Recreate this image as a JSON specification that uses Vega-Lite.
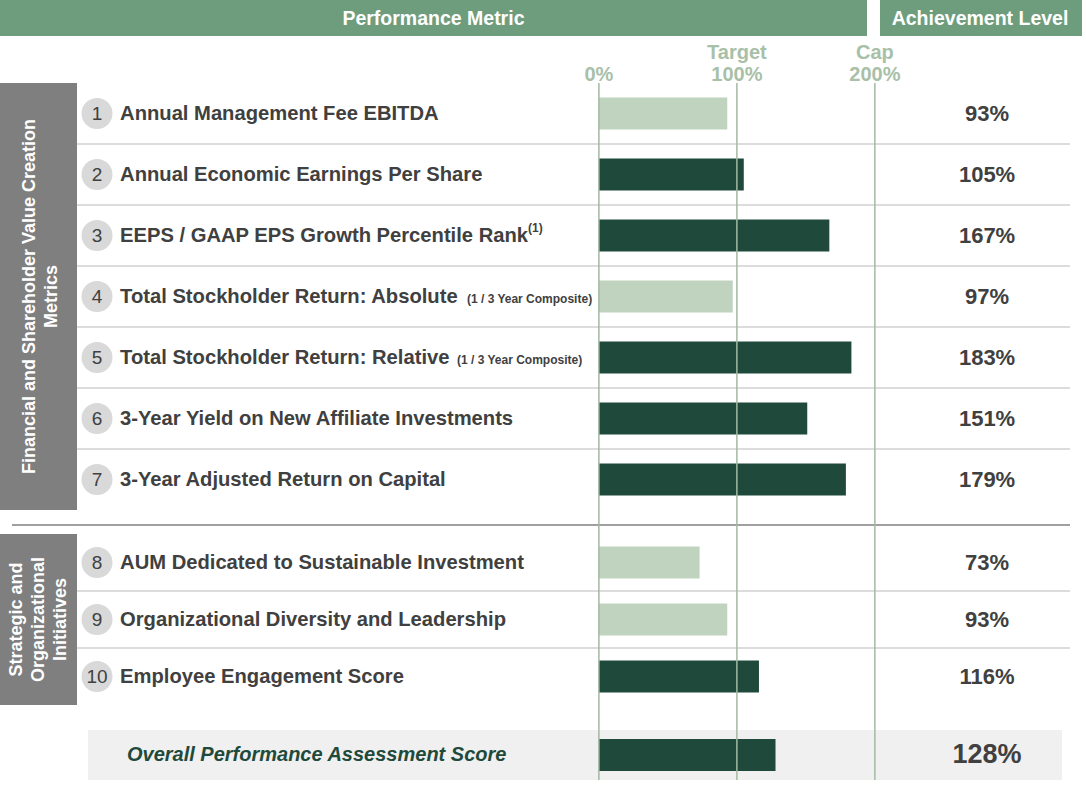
{
  "$schema": "https://vega.github.io/schema/vega-lite/v6.json",
  "padding": 0,
  "spacing": 0,
  "bounds": "flush",
  "background": "#ffffff",
  "config": {"view": {"stroke": null}, "font": "Liberation Sans", "text": {"font": "Liberation Sans"}},
  "resolve": {"scale": {"x": "independent", "y": "independent"}},
  "datasets": {
    "metrics": [
      {"rank": 1, "group": "Financial", "metric": "Annual Management Fee EBITDA", "note": "", "achievement": 0.93},
      {"rank": 2, "group": "Financial", "metric": "Annual Economic Earnings Per Share", "note": "", "achievement": 1.05},
      {"rank": 3, "group": "Financial", "metric": "EEPS / GAAP EPS Growth Percentile Rank", "note": "(1)", "achievement": 1.67},
      {"rank": 4, "group": "Financial", "metric": "Total Stockholder Return: Absolute", "note": "(1 / 3 Year Composite)", "achievement": 0.97},
      {"rank": 5, "group": "Financial", "metric": "Total Stockholder Return: Relative", "note": "(1 / 3 Year Composite)", "achievement": 1.83},
      {"rank": 6, "group": "Financial", "metric": "3-Year Yield on New Affiliate Investments", "note": "", "achievement": 1.51},
      {"rank": 7, "group": "Financial", "metric": "3-Year Adjusted Return on Capital", "note": "", "achievement": 1.79},
      {"rank": 8, "group": "Strategic", "metric": "AUM Dedicated to Sustainable Investment", "note": "", "achievement": 0.73},
      {"rank": 9, "group": "Strategic", "metric": "Organizational Diversity and Leadership", "note": "", "achievement": 0.93},
      {"rank": 10, "group": "Strategic", "metric": "Employee Engagement Score", "note": "", "achievement": 1.16}
    ],
    "groups": [
      {"group": "Financial", "title": "Financial and Shareholder Value Creation\nMetrics"},
      {"group": "Strategic", "title": "Strategic and\nOrganizational\nInitiatives"}
    ],
    "refs": [
      {"ref": 0, "name": "", "pct": "0%"},
      {"ref": 1, "name": "Target", "pct": "100%"},
      {"ref": 2, "name": "Cap", "pct": "200%"}
    ],
    "headers": [{"header": "Performance Metric"}, {"header": "Achievement Level"}],
    "overall": [{"metric": "Overall Performance Assessment Score", "achievement": 1.28}]
  },
  "vconcat": [
    {
      "width": 1086, "height": 83,
      "layer": [
        {"data": {"name": "headers"}, "transform": [{"filter": "datum.header == 'Performance Metric'"}],
         "mark": {"type": "rect", "color": "#6e9d7e"},
         "encoding": {
           "x": {"datum": -4.34, "type": "quantitative", "scale": {"domain": [-4.34, 3.53], "nice": false, "zero": false}, "axis": null},
           "x2": {"datum": 1.943},
           "y": {"datum": 0, "type": "quantitative", "scale": {"domain": [0, 83], "reverse": true, "nice": false, "zero": false}, "axis": null},
           "y2": {"datum": 36}}},
        {"data": {"name": "headers"}, "transform": [{"filter": "datum.header == 'Performance Metric'"}],
         "mark": {"type": "text", "color": "#ffffff", "fontWeight": "bold", "fontSize": 19.5, "align": "center", "baseline": "middle"},
         "encoding": {
           "x": {"datum": -1.199, "type": "quantitative", "scale": {"domain": [-4.34, 3.53], "nice": false, "zero": false}, "axis": null},
           "y": {"datum": 19, "type": "quantitative", "scale": {"domain": [0, 83], "reverse": true, "nice": false, "zero": false}, "axis": null},
           "text": {"field": "header"}}},
        {"data": {"name": "headers"}, "transform": [{"filter": "datum.header == 'Achievement Level'"}],
         "mark": {"type": "rect", "color": "#6e9d7e"},
         "encoding": {
           "x": {"datum": 2.037, "type": "quantitative", "scale": {"domain": [-4.34, 3.53], "nice": false, "zero": false}, "axis": null},
           "x2": {"datum": 3.501},
           "y": {"datum": 0, "type": "quantitative", "scale": {"domain": [0, 83], "reverse": true, "nice": false, "zero": false}, "axis": null},
           "y2": {"datum": 36}}},
        {"data": {"name": "headers"}, "transform": [{"filter": "datum.header == 'Achievement Level'"}],
         "mark": {"type": "text", "color": "#ffffff", "fontWeight": "bold", "fontSize": 19.5, "align": "center", "baseline": "middle"},
         "encoding": {
           "x": {"datum": 2.762, "type": "quantitative", "scale": {"domain": [-4.34, 3.53], "nice": false, "zero": false}, "axis": null},
           "y": {"datum": 19, "type": "quantitative", "scale": {"domain": [0, 83], "reverse": true, "nice": false, "zero": false}, "axis": null},
           "text": {"field": "header"}}},
        {"data": {"name": "refs"},
         "mark": {"type": "text", "color": "#a8c0a8", "fontWeight": "bold", "fontSize": 20, "align": "center", "baseline": "middle"},
         "encoding": {
           "x": {"field": "ref", "type": "quantitative", "scale": {"domain": [-4.34, 3.53], "nice": false, "zero": false}, "axis": null},
           "y": {"datum": 53, "type": "quantitative", "scale": {"domain": [0, 83], "reverse": true, "nice": false, "zero": false}, "axis": null},
           "text": {"field": "name"}}},
        {"data": {"name": "refs"},
         "mark": {"type": "text", "color": "#a8c0a8", "fontWeight": "bold", "fontSize": 20, "align": "center", "baseline": "middle"},
         "encoding": {
           "x": {"field": "ref", "type": "quantitative", "scale": {"domain": [-4.34, 3.53], "nice": false, "zero": false}, "axis": null},
           "y": {"datum": 75, "type": "quantitative", "scale": {"domain": [0, 83], "reverse": true, "nice": false, "zero": false}, "axis": null},
           "text": {"field": "pct"}}}
      ]
    },
    {
      "width": 1086, "height": 427,
      "data": {"name": "metrics"},
      "layer": [
        {"data": {"name": "groups"}, "transform": [{"filter": "datum.group == 'Financial'"}],
         "mark": {"type": "rect", "color": "#7f7f7f"},
         "encoding": {
           "x": {"datum": -4.34, "type": "quantitative", "scale": {"domain": [-4.34, 3.53], "nice": false, "zero": false}, "axis": null},
           "x2": {"datum": -3.782}}},
        {"data": {"name": "groups"}, "transform": [{"filter": "datum.group == 'Financial'"}],
         "mark": {"type": "text", "angle": 270, "lineBreak": "\n", "lineHeight": 22, "color": "#ffffff", "fontWeight": "bold", "fontSize": 18, "align": "center", "baseline": "middle"},
         "encoding": {
           "x": {"datum": -4.123, "type": "quantitative", "scale": {"domain": [-4.34, 3.53], "nice": false, "zero": false}, "axis": null},
           "text": {"field": "title"}}},
        {"transform": [{"filter": "datum.group == 'Financial' && datum.rank < 7"}],
         "mark": {"type": "rule", "color": "#d0d0d0", "strokeWidth": 1.5},
         "encoding": {
           "x": {"datum": -3.782, "type": "quantitative", "scale": {"domain": [-4.34, 3.53], "nice": false, "zero": false}, "axis": null},
           "x2": {"datum": 3.414},
           "y": {"field": "rank", "type": "ordinal", "bandPosition": 1, "scale": {"type": "band", "domain": [1, 2, 3, 4, 5, 6, 7], "paddingInner": 0, "paddingOuter": 0}, "axis": null}}},
        {"transform": [{"filter": "datum.group == 'Financial'"}],
         "mark": {"type": "bar", "height": 32},
         "encoding": {
           "x": {"field": "achievement", "type": "quantitative", "scale": {"domain": [-4.34, 3.53], "nice": false, "zero": false}, "axis": null},
           "x2": {"datum": 0},
           "y": {"field": "rank", "type": "ordinal", "scale": {"type": "band", "domain": [1, 2, 3, 4, 5, 6, 7], "paddingInner": 0, "paddingOuter": 0}, "axis": null},
           "color": {"condition": {"test": "datum.achievement >= 1", "value": "#1f4a3b"}, "value": "#bfd3be"}}},
        {"data": {"name": "refs"},
         "mark": {"type": "rule", "color": "#a3b9a3", "strokeWidth": 1.5},
         "encoding": {
           "x": {"field": "ref", "type": "quantitative", "scale": {"domain": [-4.34, 3.53], "nice": false, "zero": false}, "axis": null}}},
        {"transform": [{"filter": "datum.group == 'Financial'"}],
         "mark": {"type": "circle", "size": 960, "color": "#d9d9d9", "opacity": 1},
         "encoding": {
           "x": {"datum": -3.637, "type": "quantitative", "scale": {"domain": [-4.34, 3.53], "nice": false, "zero": false}, "axis": null},
           "y": {"field": "rank", "type": "ordinal", "scale": {"type": "band", "domain": [1, 2, 3, 4, 5, 6, 7], "paddingInner": 0, "paddingOuter": 0}, "axis": null}}},
        {"transform": [{"filter": "datum.group == 'Financial'"}],
         "mark": {"type": "text", "fontSize": 19, "color": "#404040", "align": "center", "baseline": "middle"},
         "encoding": {
           "x": {"datum": -3.637, "type": "quantitative", "scale": {"domain": [-4.34, 3.53], "nice": false, "zero": false}, "axis": null},
           "y": {"field": "rank", "type": "ordinal", "scale": {"type": "band", "domain": [1, 2, 3, 4, 5, 6, 7], "paddingInner": 0, "paddingOuter": 0}, "axis": null},
           "text": {"field": "rank"}}},
        {"transform": [{"filter": "datum.group == 'Financial'"}],
         "mark": {"type": "text", "fontSize": 20.2, "fontWeight": "bold", "color": "#404040", "align": "left", "baseline": "middle"},
         "encoding": {
           "x": {"datum": -3.47, "type": "quantitative", "scale": {"domain": [-4.34, 3.53], "nice": false, "zero": false}, "axis": null},
           "y": {"field": "rank", "type": "ordinal", "scale": {"type": "band", "domain": [1, 2, 3, 4, 5, 6, 7], "paddingInner": 0, "paddingOuter": 0}, "axis": null},
           "text": {"field": "metric"}}},
        {"transform": [{"filter": "datum.rank == 3"}],
         "mark": {"type": "text", "fontSize": 12, "fontWeight": "bold", "color": "#404040", "align": "left", "baseline": "middle", "dy": -8},
         "encoding": {
           "x": {"datum": -0.514, "type": "quantitative", "scale": {"domain": [-4.34, 3.53], "nice": false, "zero": false}, "axis": null},
           "y": {"field": "rank", "type": "ordinal", "scale": {"type": "band", "domain": [1, 2, 3, 4, 5, 6, 7], "paddingInner": 0, "paddingOuter": 0}, "axis": null},
           "text": {"field": "note"}}},
        {"transform": [{"filter": "datum.rank == 4"}],
         "mark": {"type": "text", "fontSize": 12, "fontWeight": "bold", "color": "#404040", "align": "left", "baseline": "middle", "dy": 2},
         "encoding": {
           "x": {"datum": -0.956, "type": "quantitative", "scale": {"domain": [-4.34, 3.53], "nice": false, "zero": false}, "axis": null},
           "y": {"field": "rank", "type": "ordinal", "scale": {"type": "band", "domain": [1, 2, 3, 4, 5, 6, 7], "paddingInner": 0, "paddingOuter": 0}, "axis": null},
           "text": {"field": "note"}}},
        {"transform": [{"filter": "datum.rank == 5"}],
         "mark": {"type": "text", "fontSize": 12, "fontWeight": "bold", "color": "#404040", "align": "left", "baseline": "middle", "dy": 2},
         "encoding": {
           "x": {"datum": -1.028, "type": "quantitative", "scale": {"domain": [-4.34, 3.53], "nice": false, "zero": false}, "axis": null},
           "y": {"field": "rank", "type": "ordinal", "scale": {"type": "band", "domain": [1, 2, 3, 4, 5, 6, 7], "paddingInner": 0, "paddingOuter": 0}, "axis": null},
           "text": {"field": "note"}}},
        {"transform": [{"filter": "datum.group == 'Financial'"}],
         "mark": {"type": "text", "fontSize": 22, "fontWeight": "bold", "color": "#404040", "align": "center", "baseline": "middle"},
         "encoding": {
           "x": {"datum": 2.813, "type": "quantitative", "scale": {"domain": [-4.34, 3.53], "nice": false, "zero": false}, "axis": null},
           "y": {"field": "rank", "type": "ordinal", "scale": {"type": "band", "domain": [1, 2, 3, 4, 5, 6, 7], "paddingInner": 0, "paddingOuter": 0}, "axis": null},
           "text": {"field": "achievement", "type": "quantitative", "format": ".0%"}}}
      ]
    },
    {
      "width": 1086, "height": 24,
      "layer": [
        {"data": {"values": [{"divider": "groups"}]},
         "mark": {"type": "rule", "color": "#808080", "strokeWidth": 1.5},
         "encoding": {
           "x": {"datum": -4.253, "type": "quantitative", "scale": {"domain": [-4.34, 3.53], "nice": false, "zero": false}, "axis": null},
           "x2": {"datum": 3.414},
           "y": {"datum": 15, "type": "quantitative", "scale": {"domain": [0, 24], "reverse": true, "nice": false, "zero": false}, "axis": null}}},
        {"data": {"name": "refs"},
         "mark": {"type": "rule", "color": "#a3b9a3", "strokeWidth": 1.5},
         "encoding": {
           "x": {"field": "ref", "type": "quantitative", "scale": {"domain": [-4.34, 3.53], "nice": false, "zero": false}, "axis": null}}}
      ]
    },
    {
      "width": 1086, "height": 171,
      "data": {"name": "metrics"},
      "layer": [
        {"data": {"name": "groups"}, "transform": [{"filter": "datum.group == 'Strategic'"}],
         "mark": {"type": "rect", "color": "#7f7f7f"},
         "encoding": {
           "x": {"datum": -4.34, "type": "quantitative", "scale": {"domain": [-4.34, 3.53], "nice": false, "zero": false}, "axis": null},
           "x2": {"datum": -3.782}}},
        {"data": {"name": "groups"}, "transform": [{"filter": "datum.group == 'Strategic'"}],
         "mark": {"type": "text", "angle": 270, "lineBreak": "\n", "lineHeight": 22, "color": "#ffffff", "fontWeight": "bold", "fontSize": 18, "align": "center", "baseline": "middle"},
         "encoding": {
           "x": {"datum": -4.217, "type": "quantitative", "scale": {"domain": [-4.34, 3.53], "nice": false, "zero": false}, "axis": null},
           "text": {"field": "title"}}},
        {"transform": [{"filter": "datum.group == 'Strategic' && datum.rank < 10"}],
         "mark": {"type": "rule", "color": "#d0d0d0", "strokeWidth": 1.5},
         "encoding": {
           "x": {"datum": -3.782, "type": "quantitative", "scale": {"domain": [-4.34, 3.53], "nice": false, "zero": false}, "axis": null},
           "x2": {"datum": 3.414},
           "y": {"field": "rank", "type": "ordinal", "bandPosition": 1, "scale": {"type": "band", "domain": [8, 9, 10], "paddingInner": 0, "paddingOuter": 0}, "axis": null}}},
        {"transform": [{"filter": "datum.group == 'Strategic'"}],
         "mark": {"type": "bar", "height": 32},
         "encoding": {
           "x": {"field": "achievement", "type": "quantitative", "scale": {"domain": [-4.34, 3.53], "nice": false, "zero": false}, "axis": null},
           "x2": {"datum": 0},
           "y": {"field": "rank", "type": "ordinal", "scale": {"type": "band", "domain": [8, 9, 10], "paddingInner": 0, "paddingOuter": 0}, "axis": null},
           "color": {"condition": {"test": "datum.achievement >= 1", "value": "#1f4a3b"}, "value": "#bfd3be"}}},
        {"data": {"name": "refs"},
         "mark": {"type": "rule", "color": "#a3b9a3", "strokeWidth": 1.5},
         "encoding": {
           "x": {"field": "ref", "type": "quantitative", "scale": {"domain": [-4.34, 3.53], "nice": false, "zero": false}, "axis": null}}},
        {"transform": [{"filter": "datum.group == 'Strategic'"}],
         "mark": {"type": "circle", "size": 960, "color": "#d9d9d9", "opacity": 1},
         "encoding": {
           "x": {"datum": -3.637, "type": "quantitative", "scale": {"domain": [-4.34, 3.53], "nice": false, "zero": false}, "axis": null},
           "y": {"field": "rank", "type": "ordinal", "scale": {"type": "band", "domain": [8, 9, 10], "paddingInner": 0, "paddingOuter": 0}, "axis": null}}},
        {"transform": [{"filter": "datum.group == 'Strategic'"}],
         "mark": {"type": "text", "fontSize": 19, "color": "#404040", "align": "center", "baseline": "middle"},
         "encoding": {
           "x": {"datum": -3.637, "type": "quantitative", "scale": {"domain": [-4.34, 3.53], "nice": false, "zero": false}, "axis": null},
           "y": {"field": "rank", "type": "ordinal", "scale": {"type": "band", "domain": [8, 9, 10], "paddingInner": 0, "paddingOuter": 0}, "axis": null},
           "text": {"field": "rank"}}},
        {"transform": [{"filter": "datum.group == 'Strategic'"}],
         "mark": {"type": "text", "fontSize": 20.2, "fontWeight": "bold", "color": "#404040", "align": "left", "baseline": "middle"},
         "encoding": {
           "x": {"datum": -3.47, "type": "quantitative", "scale": {"domain": [-4.34, 3.53], "nice": false, "zero": false}, "axis": null},
           "y": {"field": "rank", "type": "ordinal", "scale": {"type": "band", "domain": [8, 9, 10], "paddingInner": 0, "paddingOuter": 0}, "axis": null},
           "text": {"field": "metric"}}},
        {"transform": [{"filter": "datum.group == 'Strategic'"}],
         "mark": {"type": "text", "fontSize": 22, "fontWeight": "bold", "color": "#404040", "align": "center", "baseline": "middle"},
         "encoding": {
           "x": {"datum": 2.813, "type": "quantitative", "scale": {"domain": [-4.34, 3.53], "nice": false, "zero": false}, "axis": null},
           "y": {"field": "rank", "type": "ordinal", "scale": {"type": "band", "domain": [8, 9, 10], "paddingInner": 0, "paddingOuter": 0}, "axis": null},
           "text": {"field": "achievement", "type": "quantitative", "format": ".0%"}}}
      ]
    },
    {
      "width": 1086, "height": 25,
      "layer": [
        {"data": {"name": "refs"},
         "mark": {"type": "rule", "color": "#a3b9a3", "strokeWidth": 1.5},
         "encoding": {
           "x": {"field": "ref", "type": "quantitative", "scale": {"domain": [-4.34, 3.53], "nice": false, "zero": false}, "axis": null}}}
      ]
    },
    {
      "width": 1086, "height": 50,
      "data": {"name": "overall"},
      "layer": [
        {"mark": {"type": "rect", "color": "#f0f0f0"},
         "encoding": {
           "x": {"datum": -3.702, "type": "quantitative", "scale": {"domain": [-4.34, 3.53], "nice": false, "zero": false}, "axis": null},
           "x2": {"datum": 3.356}}},
        {"mark": {"type": "bar", "height": 32},
         "encoding": {
           "x": {"field": "achievement", "type": "quantitative", "scale": {"domain": [-4.34, 3.53], "nice": false, "zero": false}, "axis": null},
           "x2": {"datum": 0},
           "y": {"field": "metric", "type": "nominal", "scale": {"type": "band", "paddingInner": 0, "paddingOuter": 0}, "axis": null},
           "color": {"value": "#1f4a3b"}}},
        {"data": {"name": "refs"},
         "mark": {"type": "rule", "color": "#a3b9a3", "strokeWidth": 1.5},
         "encoding": {
           "x": {"field": "ref", "type": "quantitative", "scale": {"domain": [-4.34, 3.53], "nice": false, "zero": false}, "axis": null}}},
        {"mark": {"type": "text", "fontSize": 20, "fontWeight": "bold", "fontStyle": "italic", "color": "#1f4a3b", "align": "left", "baseline": "middle"},
         "encoding": {
           "x": {"datum": -3.42, "type": "quantitative", "scale": {"domain": [-4.34, 3.53], "nice": false, "zero": false}, "axis": null},
           "y": {"field": "metric", "type": "nominal", "scale": {"type": "band", "paddingInner": 0, "paddingOuter": 0}, "axis": null},
           "text": {"field": "metric"}}},
        {"mark": {"type": "text", "fontSize": 27, "fontWeight": "bold", "color": "#404040", "align": "center", "baseline": "middle"},
         "encoding": {
           "x": {"datum": 2.813, "type": "quantitative", "scale": {"domain": [-4.34, 3.53], "nice": false, "zero": false}, "axis": null},
           "y": {"field": "metric", "type": "nominal", "scale": {"type": "band", "paddingInner": 0, "paddingOuter": 0}, "axis": null},
           "text": {"field": "achievement", "type": "quantitative", "format": ".0%"}}}
      ]
    }
  ]
}
